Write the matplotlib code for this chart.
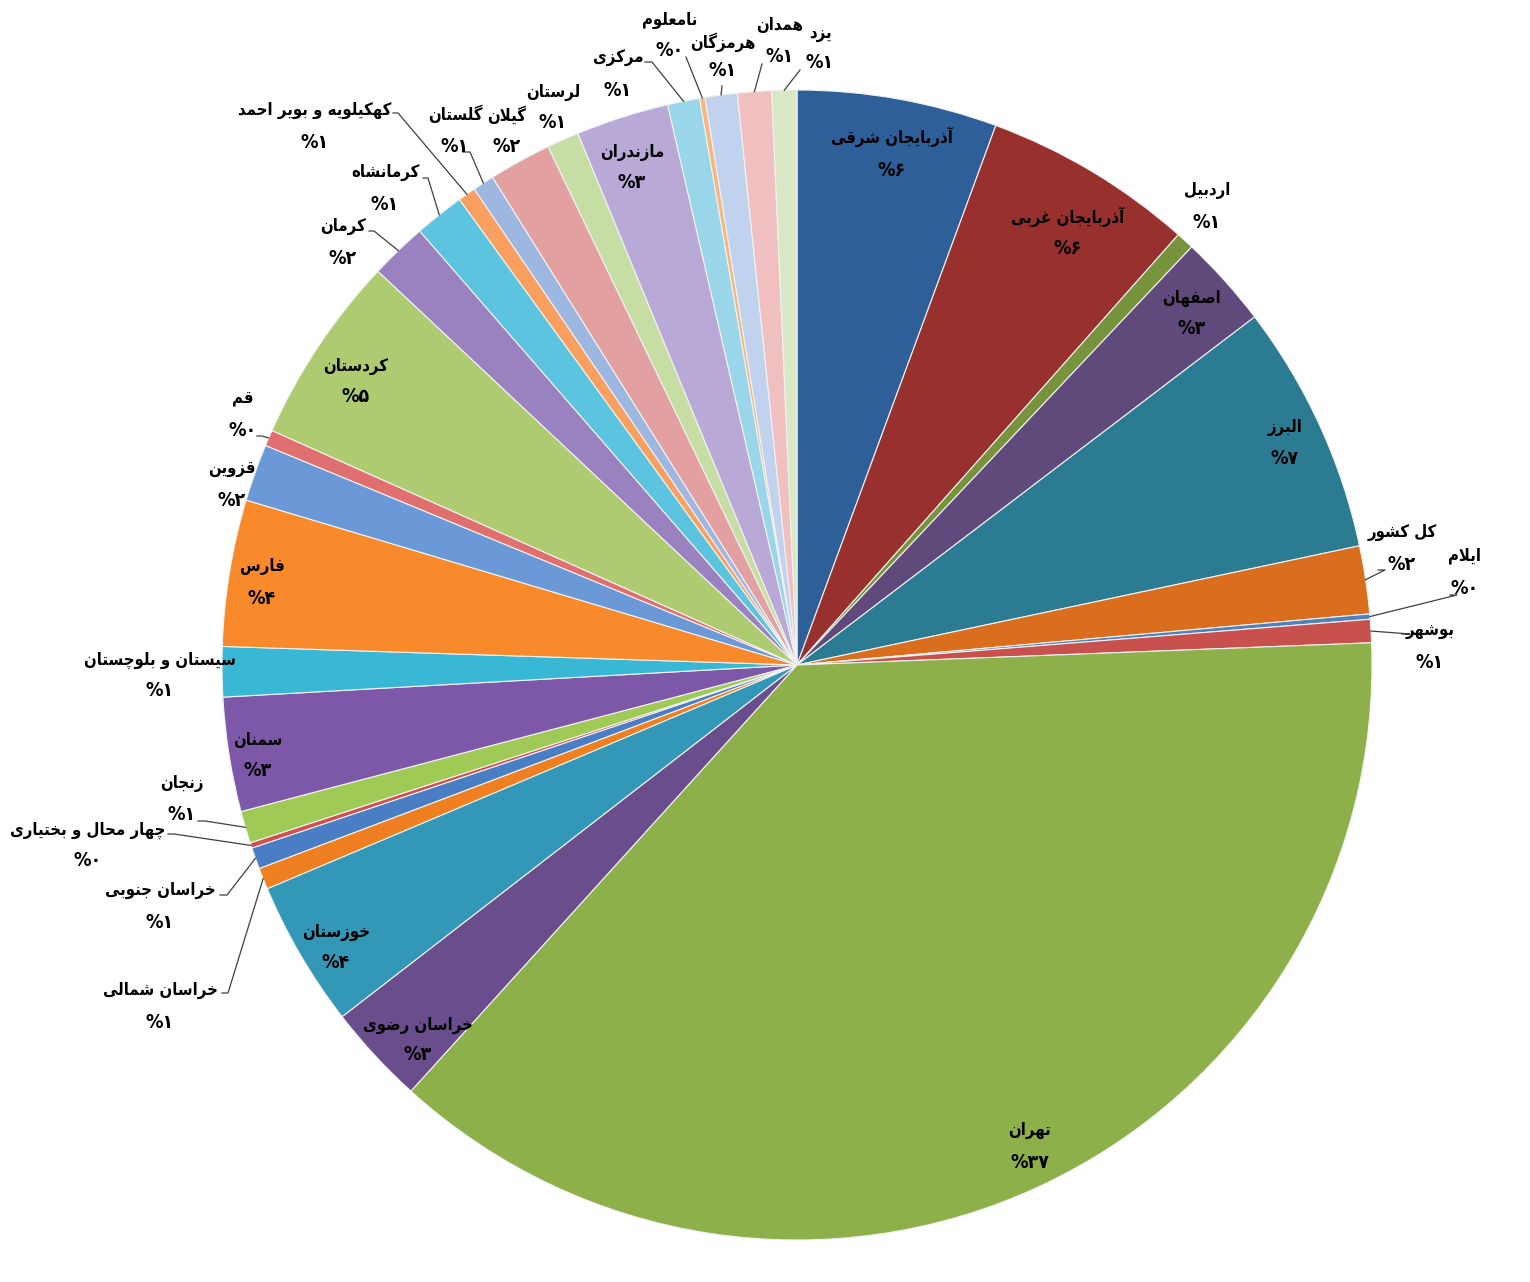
import math
import matplotlib
matplotlib.use('Agg')
import matplotlib.pyplot as plt

# ---------------- data ----------------
provinces = [
    'آذربایجان شرقی', 'آذربایجان غربی', 'اردبیل', 'اصفهان', 'البرز', 'کل کشور',
    'ایلام', 'بوشهر', 'تهران', 'خراسان رضوی', 'خوزستان', 'خراسان شمالی',
    'خراسان جنوبی', 'چهار محال و بختیاری', 'زنجان', 'سمنان', 'سیستان و بلوچستان',
    'فارس', 'قزوین', 'قم', 'کردستان', 'کرمان', 'کرمانشاه', 'کهکیلویه و بویر احمد',
    'گلستان', 'گیلان', 'لرستان', 'مازندران', 'مرکزی', 'نامعلوم', 'هرمزگان',
    'همدان', 'یزد',
]
shares = [5.6, 5.9, 0.5, 2.6, 7.0, 1.9, 0.15, 0.65, 37.2, 2.8, 4.1, 0.6,
          0.6, 0.15, 0.9, 3.2, 1.4, 4.1, 1.6, 0.45, 5.3, 1.6, 1.4, 0.5,
          0.6, 1.75, 0.9, 2.6, 0.9, 0.15, 0.9, 0.95, 0.7]
pct_labels = [6, 6, 1, 3, 7, 2, 0, 1, 37, 3, 4, 1, 1, 0, 1, 3, 1, 4, 2, 0, 5, 2,
              1, 1, 1, 2, 1, 3, 1, 0, 1, 1, 1]

# ---------------- style ----------------
colors = ['#2F5F98', '#98302E', '#77933C', '#604A7B', '#2B7C93', '#DA6D1E',
          '#4F81BD', '#C8504D', '#8DB04A', '#6A4D8C', '#3398B8', '#F07F22',
          '#4A7EC4', '#D05050', '#9ECA55', '#7E58A8', '#39B8D6', '#F88A2C',
          '#6B98D6', '#E07070', '#AECB72', '#9A82C0', '#5DC4E0', '#F9A060',
          '#9EB7E0', '#E3A0A0', '#C6DDA4', '#B9A9D6', '#9AD6EA', '#F7B57F',
          '#C1D2EE', '#F0C0C0', '#D8E8C4']

W, H = 1530, 1282
CX, CY, R = 797, 665, 575

# label placement (image pixel coords: name x, name y, percent x, percent y)
label_pos = [
    (892, 137, 892, 170), (1068, 217, 1068, 249), (1207, 190, 1207, 222),
    (1192, 298, 1192, 329), (1285, 427, 1285, 458), (1402, 532, 1402, 565),
    (1465, 555, 1465, 588), (1430, 630, 1430, 662), (1030, 1130, 1030, 1162),
    (418, 1025, 418, 1055), (336, 932, 336, 963), (160, 990, 160, 1022),
    (160, 890, 160, 922), (88, 830, 88, 860), (182, 783, 182, 815),
    (258, 740, 258, 770), (160, 660, 160, 690), (262, 566, 262, 598),
    (232, 468, 232, 500), (243, 398, 243, 430), (356, 366, 356, 397),
    (343, 226, 343, 258), (385, 172, 385, 205), (315, 110, 315, 142),
    (455, 115, 455, 147), (507, 115, 507, 147), (553, 92, 553, 123),
    (632, 152, 632, 183), (618, 58, 618, 90), (670, 20, 670, 50),
    (723, 42, 723, 70), (780, 25, 780, 57), (820, 33, 820, 63),
]
# leader lines: text-side points (image coords); last point joins the wedge edge
leaders = {
    5: [(1378, 570), (1385, 570)],
    6: [(1450, 595), (1457, 595)],
    7: [(1402, 634), (1410, 634)],
    11: [(222, 993), (228, 993)],
    12: [(220, 895), (227, 895)],
    13: [(168, 834), (174, 834)],
    14: [(198, 821), (205, 821)],
    19: [(257, 436), (262, 436)],
    21: [(369, 231), (374, 231)],
    22: [(423, 178), (428, 178)],
    23: [(393, 113), (398, 113)],
    24: [(463, 152), (470, 152)],
    28: [(645, 62), (652, 62)],
    29: [(686, 57)],
    30: [(722, 86)],
    31: [(762, 64)],
    32: [(800, 70)],
}

FORMS = {
    'ا': ('\uFE8D', '\uFE8E'), 'آ': ('\uFE81', '\uFE82'),
    'ب': ('\uFE8F', '\uFE90', '\uFE91', '\uFE92'),
    'پ': ('\uFB56', '\uFB57', '\uFB58', '\uFB59'),
    'ت': ('\uFE95', '\uFE96', '\uFE97', '\uFE98'),
    'ج': ('\uFE9D', '\uFE9E', '\uFE9F', '\uFEA0'),
    'چ': ('\uFB7A', '\uFB7B', '\uFB7C', '\uFB7D'),
    'ح': ('\uFEA1', '\uFEA2', '\uFEA3', '\uFEA4'),
    'خ': ('\uFEA5', '\uFEA6', '\uFEA7', '\uFEA8'),
    'د': ('\uFEA9', '\uFEAA'), 'ذ': ('\uFEAB', '\uFEAC'),
    'ر': ('\uFEAD', '\uFEAE'), 'ز': ('\uFEAF', '\uFEB0'),
    'ژ': ('\uFB8A', '\uFB8B'),
    'س': ('\uFEB1', '\uFEB2', '\uFEB3', '\uFEB4'),
    'ش': ('\uFEB5', '\uFEB6', '\uFEB7', '\uFEB8'),
    'ص': ('\uFEB9', '\uFEBA', '\uFEBB', '\uFEBC'),
    'ض': ('\uFEBD', '\uFEBE', '\uFEBF', '\uFEC0'),
    'ط': ('\uFEC1', '\uFEC2', '\uFEC3', '\uFEC4'),
    'ظ': ('\uFEC5', '\uFEC6', '\uFEC7', '\uFEC8'),
    'ع': ('\uFEC9', '\uFECA', '\uFECB', '\uFECC'),
    'غ': ('\uFECD', '\uFECE', '\uFECF', '\uFED0'),
    'ف': ('\uFED1', '\uFED2', '\uFED3', '\uFED4'),
    'ق': ('\uFED5', '\uFED6', '\uFED7', '\uFED8'),
    'ک': ('\uFB8E', '\uFB8F', '\uFB90', '\uFB91'),
    'گ': ('\uFB92', '\uFB93', '\uFB94', '\uFB95'),
    'ل': ('\uFEDD', '\uFEDE', '\uFEDF', '\uFEE0'),
    'م': ('\uFEE1', '\uFEE2', '\uFEE3', '\uFEE4'),
    'ن': ('\uFEE5', '\uFEE6', '\uFEE7', '\uFEE8'),
    'ه': ('\uFEE9', '\uFEEA', '\uFEEB', '\uFEEC'),
    'و': ('\uFEED', '\uFEEE'),
    'ی': ('\uFBFC', '\uFBFD', '\uFBFE', '\uFBFF'),
}
LAMALEF = {'ا': ('\uFEFB', '\uFEFC'), 'آ': ('\uFEF5', '\uFEF6')}


def shape(text):
    """Contextual shaping + visual (right-to-left) ordering for Persian."""
    s = text.replace('ي', 'ی').replace('ك', 'ک')
    out = []
    i, n = 0, len(s)
    while i < n:
        c = s[i]
        prev = s[i - 1] if i > 0 else None
        prev_joins = prev is not None and prev in FORMS and len(FORMS[prev]) == 4
        if c == 'ل' and i + 1 < n and s[i + 1] in LAMALEF:
            lig = LAMALEF[s[i + 1]]
            out.append(lig[1] if prev_joins else lig[0])
            i += 2
            continue
        if c not in FORMS:
            out.append(c)
            i += 1
            continue
        nxt = s[i + 1] if i + 1 < n else None
        next_joins = nxt is not None and nxt in FORMS
        f = FORMS[c]
        if len(f) == 4:
            if prev_joins and next_joins:
                out.append(f[3])
            elif prev_joins:
                out.append(f[1])
            elif next_joins:
                out.append(f[2])
            else:
                out.append(f[0])
        else:
            out.append(f[1] if prev_joins else f[0])
        i += 1
    return ''.join(reversed(out))


def fa_digits(v):
    return ''.join(chr(0x06F0 + int(d)) for d in str(v))


fig = plt.figure(figsize=(W / 100, H / 100), dpi=100)
ax = fig.add_axes([0, 0, 1, 1])
wedges, _ = ax.pie(shares, colors=colors, startangle=90, counterclock=False,
                   center=(CX, H - CY), radius=R,
                   wedgeprops=dict(edgecolor='#f2f2f2', linewidth=0.8))
ax.set_xlim(0, W)
ax.set_ylim(0, H)
ax.set_aspect('equal')
ax.axis('off')

font = dict(family=['DejaVu Sans'], fontweight='bold', fontstretch='condensed',
            color='black', ha='center', va='center')
for i, (name, p) in enumerate(zip(provinces, pct_labels)):
    nx, ny, px, py = label_pos[i]
    ax.text(nx, H - ny, shape(name), fontsize=12, **font)
    ax.text(px, H - py, '%' + fa_digits(p), fontsize=14, **font)
    if i in leaders:
        w = wedges[i]
        mid = math.radians((w.theta1 + w.theta2) / 2)
        ex = CX + R * math.cos(mid)
        ey = (H - CY) + R * math.sin(mid)
        pts = [(x, H - y) for x, y in leaders[i]] + [(ex, ey)]
        ax.plot([q[0] for q in pts], [q[1] for q in pts],
                color='#404040', linewidth=0.9)

fig.savefig('out.png', dpi=100, facecolor='white')
